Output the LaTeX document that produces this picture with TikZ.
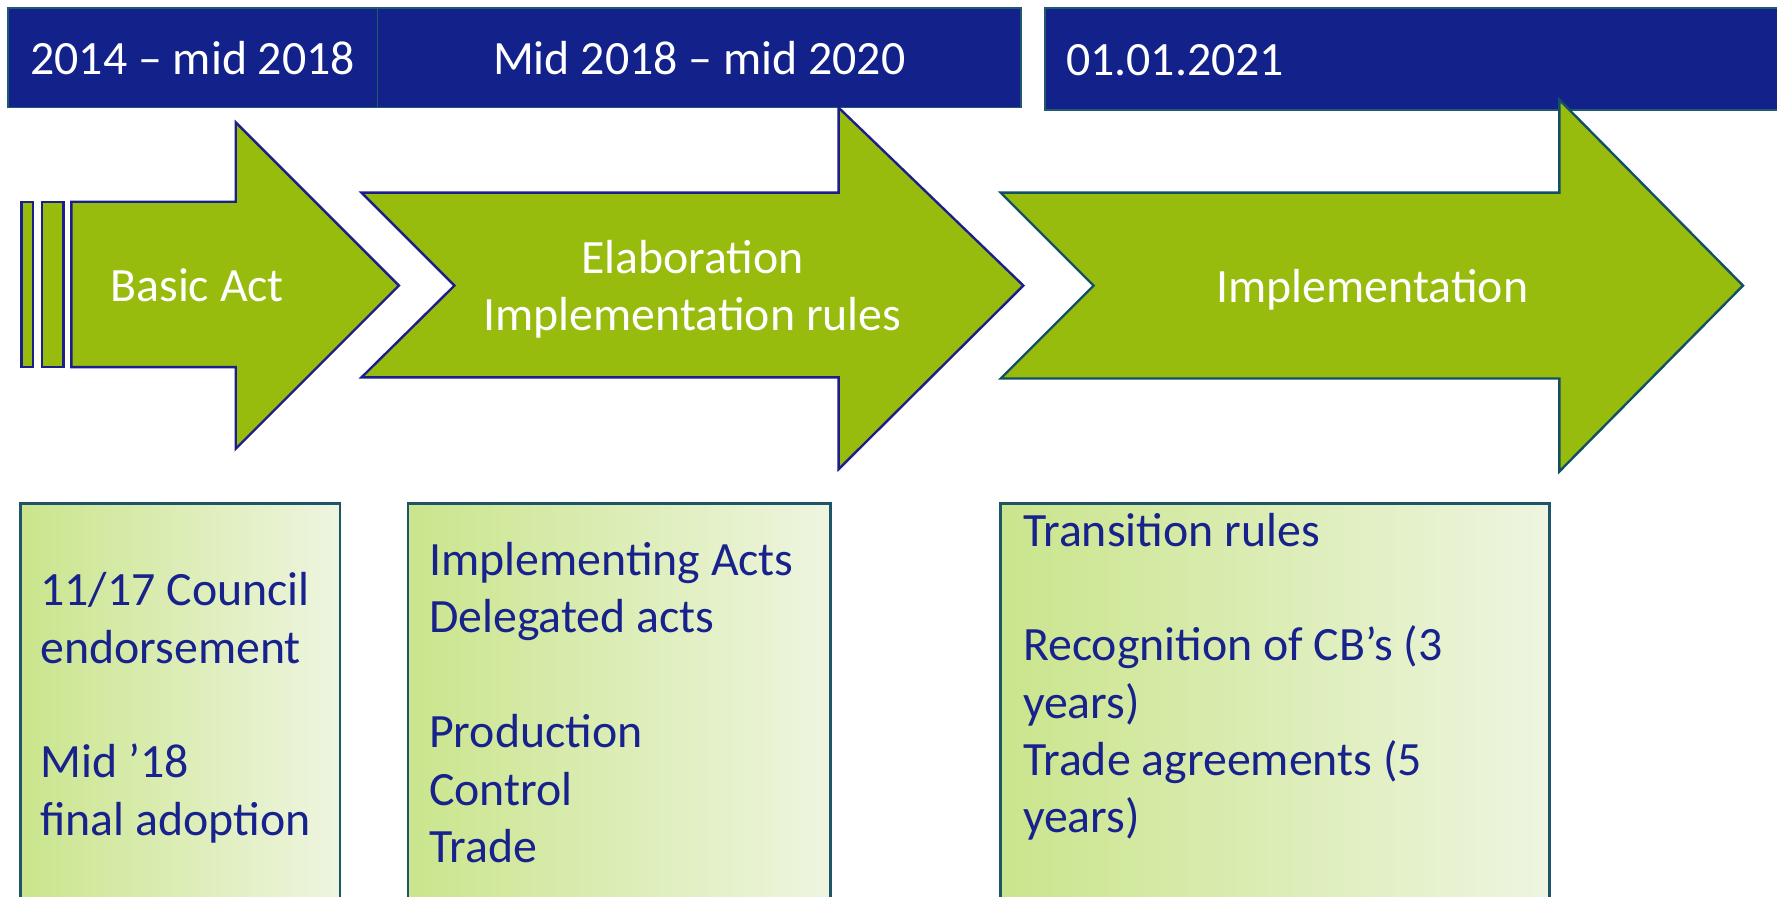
\documentclass[tikz,border=0pt]{standalone}
\usepackage{fontspec}
\setmainfont{Carlito}

\definecolor{hdrblue}{RGB}{19,33,138}
\definecolor{hdrline}{RGB}{31,90,110}
\definecolor{arrgreen}{RGB}{151,188,13}
\definecolor{arrline}{RGB}{26,31,138}
\definecolor{arrteal}{RGB}{20,80,100}
\definecolor{boxleft}{RGB}{202,229,140}
\definecolor{boxright}{RGB}{238,245,224}
\definecolor{boxline}{RGB}{30,85,105}
\definecolor{txtblue}{RGB}{24,34,140}

\begin{document}
\begin{tikzpicture}[x=0.01cm,y=-0.01cm,
    hdr/.style={fill=hdrblue,draw=hdrline,line width=0.4pt},
    arr/.style={fill=arrgreen,draw=arrline,line width=0.6pt},
    infobox/.style={left color=boxleft,right color=boxright,draw=boxline,line width=0.7pt},
    hdrtext/.style={text=white,font=\fontsize{12}{14.4}\selectfont,inner sep=0pt},
    arrtext/.style={text=white,font=\fontsize{12}{14.4}\selectfont,inner sep=0pt,anchor=base},
    boxtext/.style={text=txtblue,font=\fontsize{12}{14.4}\selectfont,align=left,inner sep=0pt,anchor=base west}]
\useasboundingbox (0,0) rectangle (1568,791);
\clip (0,0) rectangle (1568,791);

% time line
\draw[hdr] (7,7) rectangle (333,95);
\draw[hdr] (333,7) rectangle (901,95);
\draw[hdr] (922,7) rectangle (1572,97);
\node[hdrtext,anchor=base] (per1) at (170,66) {2014 – mid 2018};
\node[hdrtext,anchor=base] (per2) at (617,66) {Mid 2018 – mid 2020};
\node[hdrtext,anchor=base west] (per3) at (940,67) {01.01.2021};

% the three steps
\draw[arr] (19,178) rectangle (29,324);
\draw[arr] (37,178) rectangle (56,324);
\draw[arr] (63,178) -- (208,178) -- (208,108) -- (352,252) -- (208,396) -- (208,324) -- (63,324) -- cycle;
\draw[arr] (319,170) -- (740,170) -- (740,95) -- (903,252) -- (740,414) -- (740,333) -- (319,333) -- (401,252) -- cycle;
\draw[arr,draw=arrteal] (883,170) -- (1376,170) -- (1376,88) -- (1538,252) -- (1376,416) -- (1376,334) -- (883,334) -- (965,252) -- cycle;

\node[arrtext] (basic) at (174,266) {Basic Act};
\node[arrtext] (elab) at (611,241) {Elaboration};
\node[arrtext] (elabrules) at (611,292) {Implementation rules};
\node[arrtext] (impl) at (1211,267) {Implementation};

% details (anchored at the last line)
\draw[infobox] (18,444) rectangle (300,810);
\draw[infobox] (360,444) rectangle (733,810);
\draw[infobox] (883,444) rectangle (1367,810);

\node[boxtext] (det1) at (35,737) {11/17 Council\\endorsement\\[14.4pt]Mid ’18\\final adoption};
\node[boxtext] (det2) at (378,761) {Implementing Acts\\Delegated acts\\[14.4pt]Production\\Control\\Trade};
\node[boxtext] (det3) at (902,735) {Transition rules\\[14.4pt]Recognition of CB’s (3\\years)\\Trade agreements (5\\years)};

\end{tikzpicture}
\end{document}
